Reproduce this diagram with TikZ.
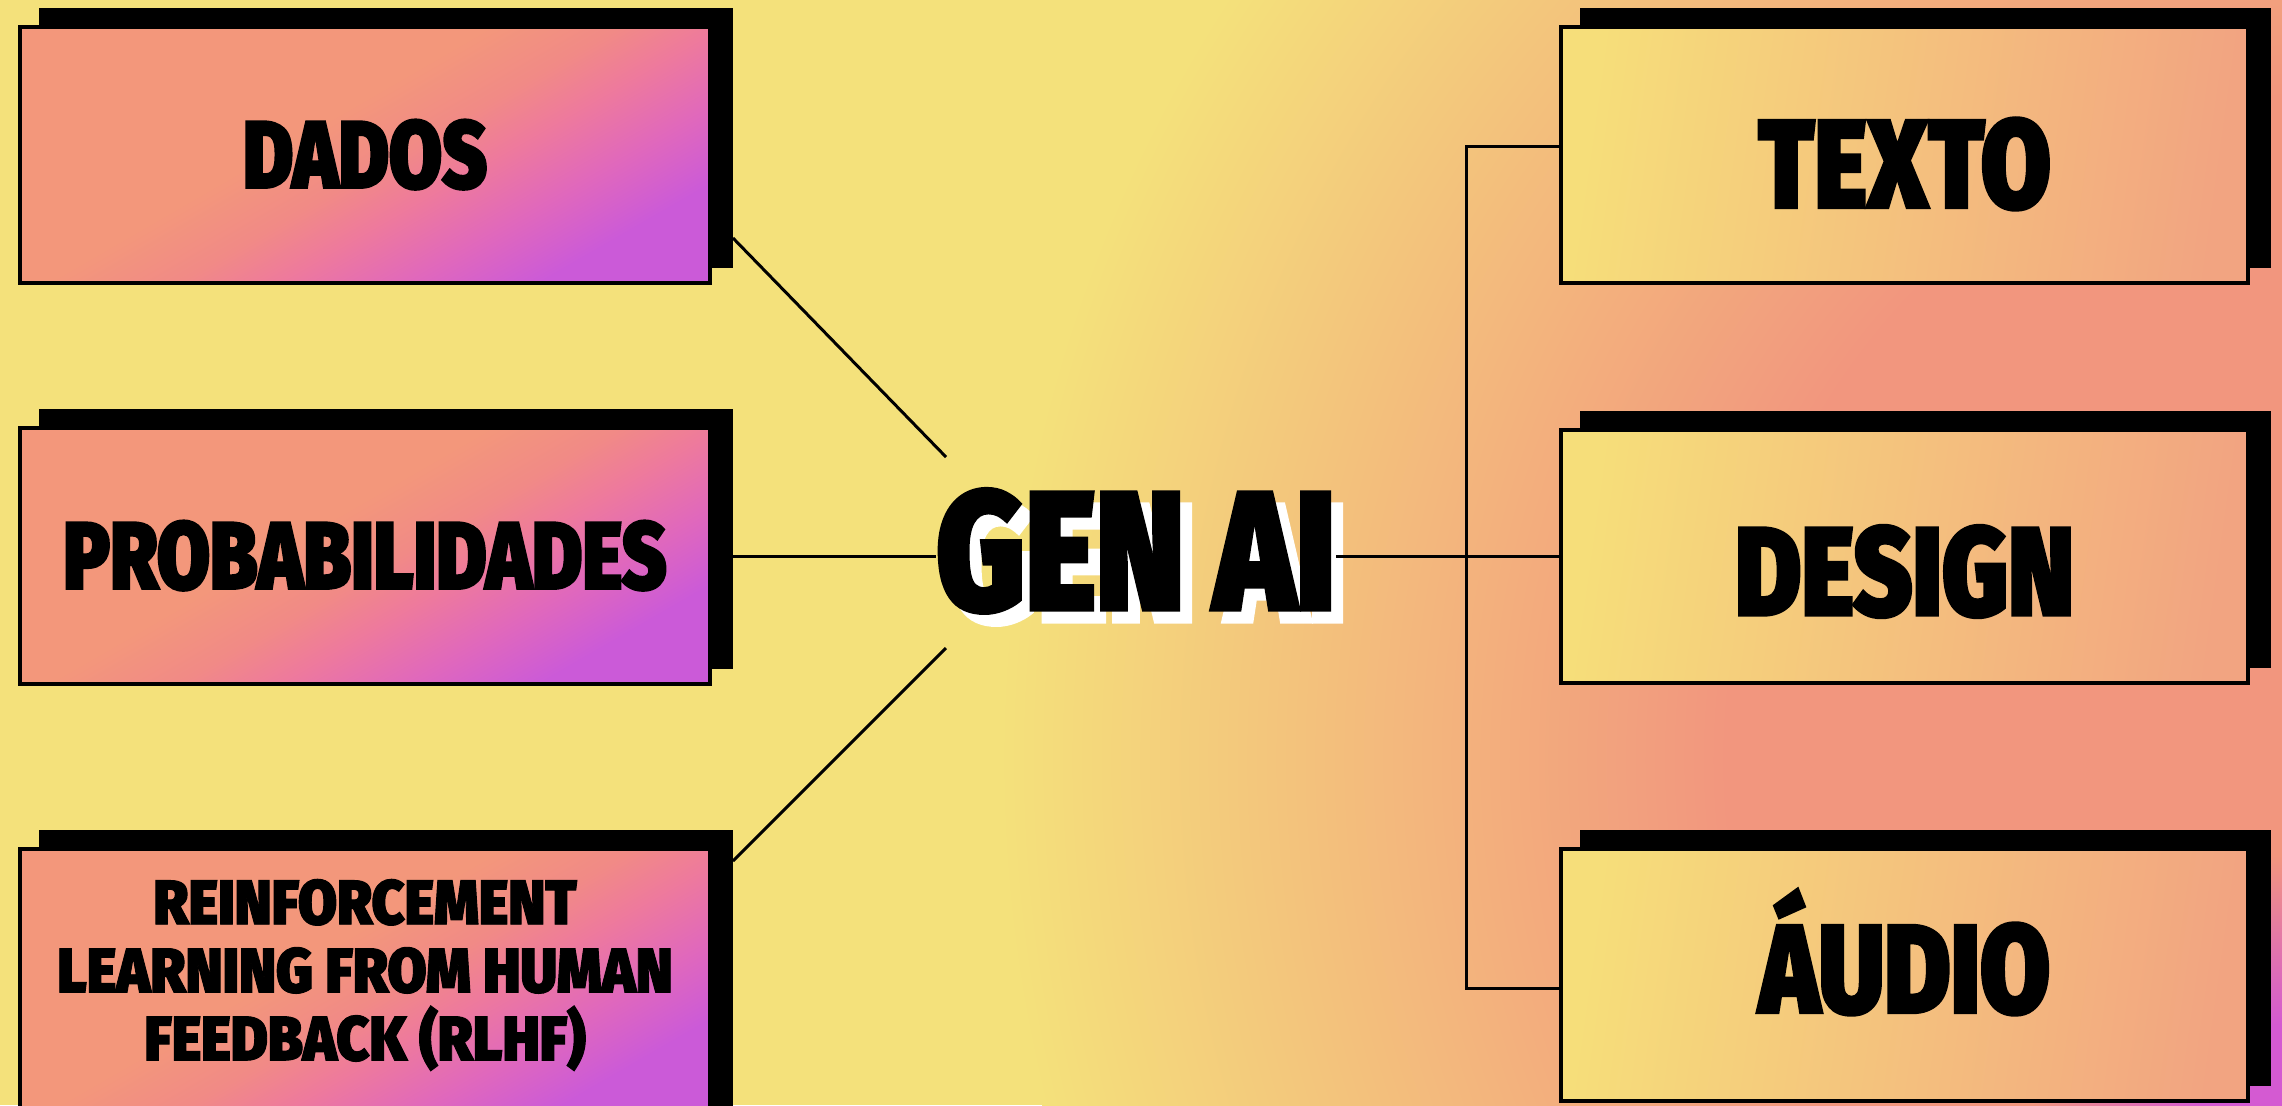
\documentclass[tikz,border=0pt]{standalone}
\usepackage{fontspec}
\newfontfamily\heavy{Fira Sans}[UprightFont=* Black, FakeStretch=0.8, FakeBold=1.8]
\newfontfamily\heavyw{Fira Sans}[UprightFont=* Black, FakeStretch=0.9, FakeBold=1.5]
\usetikzlibrary{shadows,calc}
\definecolor{bgY}{HTML}{F4E17B}
\definecolor{glowA}{HTML}{F2967E}
\definecolor{magC}{HTML}{D45AD2}
\definecolor{lA}{HTML}{F3977B}
\definecolor{lA2}{HTML}{F18A86}
\definecolor{lB}{HTML}{EE7A9C}
\definecolor{lM}{HTML}{E068BC}
\definecolor{lC}{HTML}{CB5AD8}
\definecolor{rA}{HTML}{F6DE7A}
\definecolor{rB}{HTML}{F2A481}
\pgfdeclareradialshading{bgglow}{\pgfpoint{0bp}{0bp}}{color(0bp)=(glowA); color(12bp)=(glowA); color(25bp)=(bgY); color(50bp)=(bgY)}
\pgfdeclareradialshading{cornerglow}{\pgfpoint{0bp}{0bp}}{color(0bp)=(magC); color(8bp)=(magC); color(25bp)=(glowA); color(50bp)=(glowA)}
\pgfdeclarehorizontalshading{lgrad}{100bp}{color(0bp)=(lA); color(25bp)=(lA); color(44bp)=(lA); color(52bp)=(lA2); color(58bp)=(lB); color(66bp)=(lM); color(74bp)=(lC); color(100bp)=(lC)}
\pgfdeclarehorizontalshading{rgrad}{100bp}{color(0bp)=(rA); color(25bp)=(rA); color(75bp)=(rB); color(100bp)=(rB)}
\tikzset{
  boxbase/.style={draw=black, line width=1pt, inner sep=0pt, text depth=0pt,
    copy shadow={shadow xshift=0.21cm, shadow yshift=0.17cm, fill=black, draw=black, line width=1pt}},
  lbox/.style={boxbase, minimum width=6.9cm, minimum height=2.56cm,
    shade, shading=lgrad, shading angle=-60,
    font=\heavy\fontsize{27.3}{30}\selectfont, text height=0.66cm},
  rbox/.style={boxbase, minimum width=6.87cm, minimum height=2.56cm,
    shade, shading=rgrad, shading angle=-8,
    font=\heavy\fontsize{36}{40}\selectfont, text height=0.88cm},
  gentext/.style={inner sep=0pt, font=\heavy\fontsize{48.3}{50}\selectfont, text height=1.17cm, text depth=0pt},
  conn/.style={draw=black, line width=0.85pt}
}
\begin{document}
\begin{tikzpicture}[x=0.01cm, y=-0.01cm]
\useasboundingbox (0,0) rectangle (2282,1105);
\begin{scope}
\clip (0,0) rectangle (2282,1105);
% background
\fill[bgY] (0,0) rectangle (2282,1105);
\shade[shading=bgglow] (2400,760) circle (14cm);
\shade[shading=cornerglow] (2282,1105) circle (2.5cm);

\coordinate (gnw) at (946,457);
\coordinate (gsw) at (946,648);

% left boxes
\node[lbox] (dados) at (365,155) {DADOS};
\node[lbox] (prob) at (365,556) {PROBABILIDADES};
\node[lbox, minimum height=2.72cm,
  label={[font=\heavyw\fontsize{17.9}{19.35}\selectfont, align=center, yshift=0.1cm, inner sep=0pt]center:{REINFORCEMENT\\LEARNING FROM HUMAN\\FEEDBACK (RLHF)}}] (rlhf) at (365,985) {};

% right boxes
\node[rbox, text height=1.06cm] (texto) at (1904.5,155) {TEXTO};
\node[rbox, minimum height=2.53cm, text height=1.18cm] (design) at (1904.5,556.5) {DESIGN};
\node[rbox, minimum height=2.52cm, text depth=0.12cm] (audio) at (1904.5,975) {ÁUDIO};

% center title
\node[gentext, text=white] (gensh) at (1148,563.5) {GEN AI};
\node[gentext] (gen) at (1136,551.5) {GEN AI};

% connectors
\draw[conn] ($(dados.east)+(21,83)$) -- (gnw);
\draw[conn] ($(prob.east)+(21,0)$) -- (gen.west |- prob.east);
\draw[conn] ($(rlhf.east)+(21,-124)$) -- (gsw);
\draw[conn] (gen.east |- design.west) -- (design.west);
\draw[conn] (texto.west |- 0,146) -- (1466,146) -- (1466,988) -- (audio.west |- 0,988);
\end{scope}
\end{tikzpicture}
\end{document}
